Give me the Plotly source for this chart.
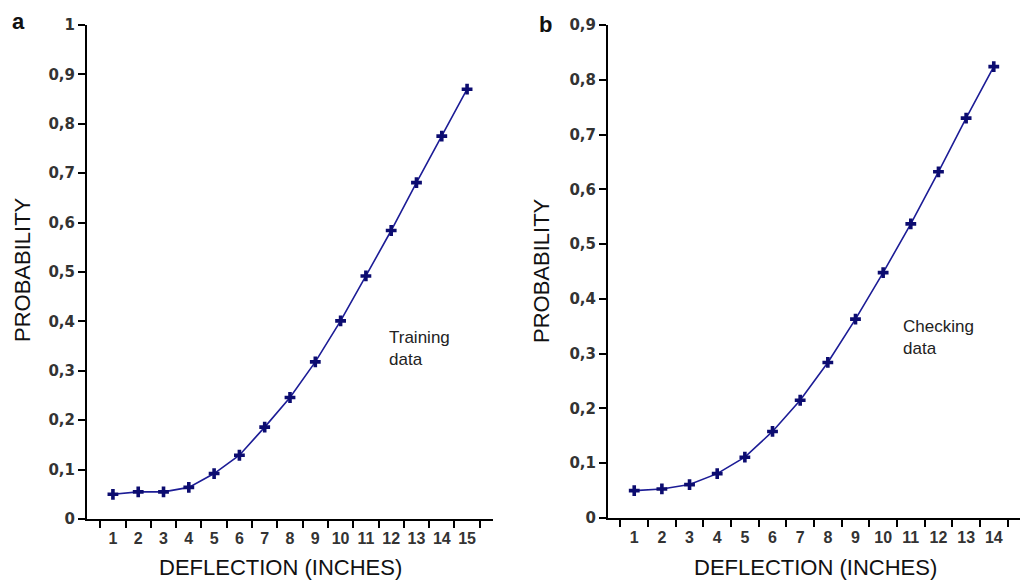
import plotly.graph_objects as go

W, H = 1023, 582

deflection_a = [str(i) for i in range(1, 16)]
prob_training = [0.050, 0.055, 0.055, 0.064, 0.092, 0.129, 0.186, 0.246, 0.318,
                 0.401, 0.492, 0.584, 0.681, 0.775, 0.870]

deflection_b = [str(i) for i in range(1, 15)]
prob_checking = [0.050, 0.053, 0.061, 0.081, 0.111, 0.158, 0.215, 0.284, 0.363,
                 0.448, 0.537, 0.632, 0.730, 0.824]

yticks_a = [0, 0.1, 0.2, 0.3, 0.4, 0.5, 0.6, 0.7, 0.8, 0.9, 1.0]
ylabels_a = ["0", "0,1", "0,2", "0,3", "0,4", "0,5", "0,6", "0,7", "0,8", "0,9", "1"]
yticks_b = [0, 0.1, 0.2, 0.3, 0.4, 0.5, 0.6, 0.7, 0.8, 0.9]
ylabels_b = ["0", "0,1", "0,2", "0,3", "0,4", "0,5", "0,6", "0,7", "0,8", "0,9"]

LINE = "#1c1c96"
MARK = "#0c0c70"
FONT = "Liberation Sans"
YTICKFONT = dict(family="DejaVu Sans", size=15, color="#333", weight="bold")
XTICKFONT = dict(family="Liberation Sans", size=16, color="#333", weight="bold")

fig = go.Figure()
fig.add_trace(go.Scatter(x=deflection_a, y=prob_training, mode="lines+markers",
                         line=dict(color=LINE, width=1.6),
                         marker=dict(symbol="cross", size=9, color=MARK),
                         xaxis="x", yaxis="y", showlegend=False))
fig.add_trace(go.Scatter(x=deflection_b, y=prob_checking, mode="lines+markers",
                         line=dict(color=LINE, width=1.6),
                         marker=dict(symbol="cross", size=9, color=MARK),
                         xaxis="x2", yaxis="y2", showlegend=False))

def px_x(p):
    return p / W

def px_y(p):
    return 1 - p / H

ydom = [px_y(519), px_y(25)]
ydom_b = [px_y(518), px_y(25)]

common_x = dict(type="category", tickson="boundaries", ticks="outside", ticklen=7,
                tickwidth=2, tickcolor="black", showline=True, linecolor="black",
                linewidth=2, showgrid=False, zeroline=False, tickangle=0,
                ticklabelstandoff=4, tickfont=XTICKFONT, automargin=False)
common_y = dict(ticks="outside", ticklen=7, tickwidth=2, tickcolor="black",
                showline=True, linecolor="black", linewidth=2, showgrid=False,
                zeroline=False, tickfont=YTICKFONT, automargin=False)

fig.update_layout(
    width=W, height=H,
    margin=dict(l=0, r=0, t=0, b=0, pad=0),
    paper_bgcolor="white", plot_bgcolor="white",
    xaxis=dict(domain=[px_x(87), px_x(493)], anchor="y", **common_x),
    yaxis=dict(domain=ydom, anchor="x", range=[0, 1.0], tickvals=yticks_a,
               ticktext=ylabels_a, **common_y),
    xaxis2=dict(domain=[px_x(608), px_x(1020)], anchor="y2", **common_x),
    yaxis2=dict(domain=ydom_b, anchor="x2", range=[0, 0.9], tickvals=yticks_b,
                ticktext=ylabels_b, **common_y),
)

ann_font = dict(family=FONT, size=22, color="#111")
note_font = dict(family=FONT, size=17, color="#222")

def ann(text, x, y, font, **kw):
    d = dict(text=text, x=px_x(x), y=px_y(y), xref="paper", yref="paper",
             xanchor="center", yanchor="middle", showarrow=False, font=font)
    d.update(kw)
    return d

annotations = [
    ann("<b>a</b>", 18, 22, dict(family=FONT, size=22, color="#111")),
    ann("<b>b</b>", 545, 25, dict(family=FONT, size=22, color="#111")),
    ann("PROBABILITY", 22, 270, ann_font, textangle=-90),
    ann("PROBABILITY", 541, 271, ann_font, textangle=-90),
    ann("DEFLECTION (INCHES)", 280, 567, ann_font),
    ann("DEFLECTION (INCHES)", 815, 567, ann_font),
    ann("Training<br>data", 387, 348, note_font, xanchor="left", align="left"),
    ann("Checking<br>data", 901, 337, note_font, xanchor="left", align="left"),
]
fig.update_layout(annotations=annotations)

fig.write_html("out.html")
